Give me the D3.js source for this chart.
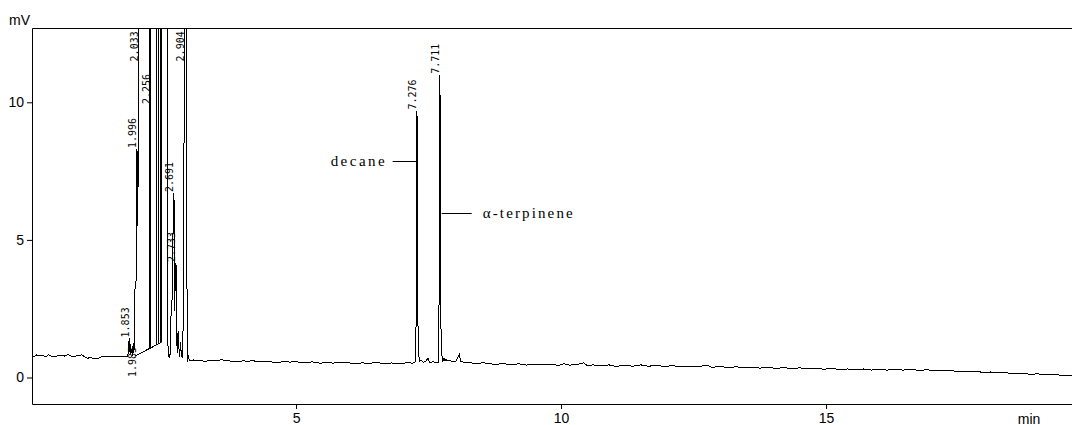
<!DOCTYPE html>
<html>
<head>
<meta charset="utf-8">
<script src="https://cdn.jsdelivr.net/npm/d3@7"></script>
<style>
  html, body { margin: 0; padding: 0; background: #fff; }
  svg { display: block; }
</style>
</head>
<body>
<div id="chart"></div>
<script>
// Detector trace, [time (min), signal (mV)]
var startBaseline = [
    [0.02, 0.80], [0.06, 0.76], [0.10, 0.82], [0.15, 0.78], [0.22, 0.79], [0.28, 0.76],
    [0.33, 0.82], [0.38, 0.78], [0.45, 0.77], [0.55, 0.80], [0.63, 0.78], [0.70, 0.83],
    [0.76, 0.78], [0.80, 0.77], [0.90, 0.79], [0.96, 0.83], [1.00, 0.76], [1.06, 0.70],
    [1.12, 0.72], [1.20, 0.68], [1.28, 0.71], [1.35, 0.76], [1.42, 0.77], [1.50, 0.75],
    [1.58, 0.78], [1.65, 0.76], [1.72, 0.78], [1.78, 0.76]
];
var solventCluster = [
    [1.81, 0.78], [1.825, 0.76], [1.835, 0.95], [1.845, 1.20], [1.853, 1.42], [1.86, 1.10],
    [1.868, 0.95], [1.875, 1.20], [1.885, 0.85], [1.90, 1.05], [1.91, 0.80], [1.922, 1.15],
    [1.932, 0.90], [1.945, 1.30], [1.955, 1.00], [1.962, 3.20], [1.975, 3.30], [1.985, 3.60],
    [1.990, 8.00], [1.996, 8.30], [2.006, 8.10], [2.010, 5.50], [2.018, 6.20], [2.033, 16.0],
    [2.57, 16.0], [2.585, 0.93], [2.60, 0.75], [2.615, 0.72], [2.63, 0.95], [2.645, 2.60],
    [2.66, 2.80], [2.675, 3.10], [2.682, 6.50], [2.691, 6.70], [2.700, 6.40], [2.705, 2.40],
    [2.715, 2.90], [2.725, 4.00], [2.733, 4.16], [2.742, 4.00], [2.748, 1.50], [2.76, 0.90],
    [2.775, 1.70], [2.79, 1.10], [2.805, 0.75], [2.82, 1.30], [2.835, 0.85], [2.855, 0.70],
    [2.87, 1.83], [2.88, 2.00], [2.895, 16.0], [2.935, 16.0], [2.945, 0.70], [2.955, 0.58],
    [2.97, 0.80], [2.985, 0.62]
];
var midBaseline = [
    [3.00, 0.60], [3.06, 0.64], [3.10, 0.61], [3.20, 0.62], [3.28, 0.58], [3.35, 0.62],
    [3.50, 0.60], [3.60, 0.65], [3.66, 0.60], [3.75, 0.60], [3.90, 0.57], [4.00, 0.61],
    [4.10, 0.58], [4.18, 0.62], [4.25, 0.58], [4.40, 0.57], [4.50, 0.59], [4.60, 0.54],
    [4.75, 0.57], [4.90, 0.56], [4.98, 0.60], [5.05, 0.56], [5.20, 0.54], [5.30, 0.57],
    [5.45, 0.52], [5.60, 0.55], [5.70, 0.52], [5.85, 0.56], [6.00, 0.53], [6.10, 0.50],
    [6.25, 0.53], [6.40, 0.51], [6.50, 0.56], [6.60, 0.52], [6.70, 0.49], [6.80, 0.53],
    [6.90, 0.50], [7.00, 0.51], [7.10, 0.54], [7.20, 0.52]
];
var decanePeak = [
    [7.245, 0.56], [7.255, 0.90], [7.262, 1.75], [7.268, 2.00], [7.272, 9.20], [7.276, 9.70],
    [7.290, 9.30], [7.296, 4.50], [7.302, 1.60], [7.31, 0.90], [7.33, 0.60], [7.36, 0.63],
    [7.40, 0.55], [7.45, 0.58], [7.49, 0.72], [7.52, 0.55], [7.58, 0.57], [7.64, 0.55]
];
var terpinenePeak = [
    [7.68, 0.55], [7.695, 0.60], [7.70, 4.10], [7.703, 4.30], [7.706, 10.3], [7.711, 11.0],
    [7.716, 10.3], [7.724, 10.0], [7.728, 6.00], [7.733, 2.00], [7.74, 1.30], [7.755, 0.75],
    [7.77, 0.60], [7.79, 0.70], [7.81, 0.60], [7.83, 0.66], [7.85, 0.60], [7.90, 0.62],
    [7.96, 0.58], [8.02, 0.60], [8.08, 0.85], [8.11, 0.58]
];
var tailBaseline = [
    [8.15, 0.56], [8.30, 0.53], [8.45, 0.50], [8.52, 0.54], [8.60, 0.52], [8.75, 0.47],
    [8.90, 0.51], [9.05, 0.46], [9.20, 0.50], [9.35, 0.45], [9.50, 0.49], [9.65, 0.46],
    [9.80, 0.49], [9.95, 0.44], [10.05, 0.50], [10.15, 0.45], [10.30, 0.47], [10.43, 0.53],
    [10.50, 0.43], [10.60, 0.46], [10.75, 0.42], [10.90, 0.46], [11.05, 0.40], [11.20, 0.45],
    [11.35, 0.41], [11.50, 0.46], [11.65, 0.41], [11.80, 0.44], [11.95, 0.40], [12.10, 0.43],
    [12.25, 0.39], [12.40, 0.41], [12.55, 0.38], [12.75, 0.45], [12.85, 0.37], [13.00, 0.40],
    [13.15, 0.36], [13.30, 0.39], [13.45, 0.35], [13.60, 0.38], [13.75, 0.34], [13.90, 0.37],
    [14.05, 0.33], [14.20, 0.36], [14.35, 0.32], [14.50, 0.35], [14.65, 0.31], [14.80, 0.34],
    [14.95, 0.30], [15.10, 0.33], [15.25, 0.29], [15.40, 0.31], [15.55, 0.28], [15.70, 0.31],
    [15.85, 0.27], [16.00, 0.30], [16.15, 0.27], [16.30, 0.30], [16.45, 0.27], [16.60, 0.29],
    [16.75, 0.26], [16.90, 0.28], [17.05, 0.25], [17.20, 0.27], [17.35, 0.24], [17.50, 0.23],
    [17.65, 0.21], [17.80, 0.23], [17.95, 0.19], [18.10, 0.20], [18.25, 0.17], [18.40, 0.17],
    [18.55, 0.14], [18.70, 0.15], [18.85, 0.12], [19.00, 0.13], [19.15, 0.10], [19.30, 0.11],
    [19.45, 0.08], [19.64, 0.09]
];

// integration baseline under the solvent peak and its drop lines
var intBaseline = [[1.962, 0.78], [2.453, 1.27]];
var dropTimes = [2.226, 2.250, 2.358, 2.396, 2.440, 2.453];

// retention time labels: time, text, level (mV) where the label starts
var peakTimes = [1.853, 1.985, 1.996, 2.033, 2.256, 2.691, 2.733, 2.904, 7.276, 7.711];
var peakLabels = ["1.853", "1.985", "1.996", "2.033", "2.256", "2.691", "2.733", "2.904", "7.276", "7.711"];
var labelLevels = [1.42, -0.02, 8.3, 11.45, 9.9, 6.7, 4.16, 11.45, 9.7, 11.0];

// named compounds
var compoundNames = ["decane", "\u03b1-terpinene"];
var compoundTimes = [7.276, 7.711];
var compoundLevels = [7.86, 5.97];

var xTicks = [5, 10, 15];
var yTicks = [0, 5, 10];

var trace = startBaseline.concat(solventCluster, midBaseline, decanePeak, terpinenePeak, tailBaseline);

var W = 1072, H = 425;
var plot = { left: 32, right: 1072, top: 28, bottom: 404 };

var svg = d3.select("#chart").append("svg")
    .attr("width", W)
    .attr("height", H);

var x = d3.scaleLinear().domain([0, 19.64]).range([31, 1072]);
var y = d3.scaleLinear().domain([-0.963, 12.70]).range([404, 28]);

svg.append("clipPath").attr("id", "plotclip")
    .append("rect")
    .attr("x", plot.left).attr("y", plot.top)
    .attr("width", plot.right - plot.left).attr("height", plot.bottom - plot.top);

var plotArea = svg.append("g").attr("clip-path", "url(#plotclip)");

// integration baseline + drop lines
plotArea.append("line")
    .attr("x1", x(intBaseline[0][0])).attr("y1", y(intBaseline[0][1]))
    .attr("x2", x(intBaseline[1][0])).attr("y2", y(intBaseline[1][1]))
    .attr("stroke", "#000").attr("stroke-width", 1)
    .attr("shape-rendering", "crispEdges");

var baseAt = d3.scaleLinear()
    .domain([intBaseline[0][0], intBaseline[1][0]])
    .range([intBaseline[0][1], intBaseline[1][1]]);

plotArea.selectAll(".drop")
    .data(dropTimes)
    .enter().append("line")
    .attr("class", "drop")
    .attr("x1", function (d) { return Math.round(x(d)) + 0.5; })
    .attr("x2", function (d) { return Math.round(x(d)) + 0.5; })
    .attr("y1", function (d) { return y(baseAt(d)); })
    .attr("y2", y(16))
    .attr("stroke", "#000").attr("stroke-width", 1);

// the trace itself
plotArea.append("path")
    .datum(trace)
    .attr("d", d3.line().x(function (d) { return x(d[0]); }).y(function (d) { return y(d[1]); }))
    .attr("fill", "none")
    .attr("stroke", "#000")
    .attr("stroke-width", 1)
    .attr("shape-rendering", "crispEdges");

// frame (top, left, bottom)
svg.append("path")
    .attr("d", "M" + plot.right + "," + (plot.top + 0.5) + "H" + (plot.left + 0.5) +
        "V" + (plot.bottom + 0.5) + "H" + plot.right)
    .attr("fill", "none").attr("stroke", "#000").attr("stroke-width", 1);

// axes
var gy = svg.append("g")
    .attr("transform", "translate(" + plot.left + ",0)")
    .call(d3.axisLeft(y).tickValues(yTicks).tickSize(5).tickPadding(3).tickFormat(d3.format("d")));
gy.select(".domain").remove();

var gx = svg.append("g")
    .attr("transform", "translate(0," + plot.bottom + ")")
    .call(d3.axisBottom(x).tickValues(xTicks).tickSize(5).tickPadding(4).tickFormat(d3.format("d")));
gx.select(".domain").remove();

svg.selectAll(".tick text")
    .attr("font-family", "'Liberation Sans', Arial, sans-serif")
    .attr("font-size", 14)
    .attr("fill", "#000");
svg.selectAll(".tick line").attr("stroke", "#000");

svg.append("text")
    .attr("x", 9).attr("y", 25)
    .attr("font-family", "'Liberation Sans', Arial, sans-serif")
    .attr("font-size", 14)
    .text("mV");

svg.append("text")
    .attr("x", 1029).attr("y", 423.5)
    .attr("text-anchor", "middle")
    .attr("font-family", "'Liberation Sans', Arial, sans-serif")
    .attr("font-size", 14)
    .text("min");

// retention time labels, rotated, sitting on the peak apex
svg.selectAll(".rt")
    .data(peakTimes)
    .enter().append("text")
    .attr("class", "rt")
    .attr("transform", function (d, i) {
        return "translate(" + (x(d) - 0.5) + "," + (y(labelLevels[i]) - 1) + ") rotate(-90)";
    })
    .attr("font-family", "'DejaVu Sans Mono', monospace")
    .attr("font-size", 10)
    .attr("fill", "#000")
    .text(function (d, i) { return peakLabels[i]; });

// compound annotations
var annLine = [24, 30];     // leader line length
var annGap = [8, 11];       // gap between leader and text
var annWidth = [54, 90];    // printed text width
compoundNames.forEach(function (name, i) {
    var px = x(compoundTimes[i]);
    var py = Math.round(y(compoundLevels[i])) + 0.5;
    var left = i === 0;
    var x1 = left ? px - annLine[i] : px + 2;
    var x2 = left ? px : px + 2 + annLine[i];
    svg.append("line")
        .attr("x1", x1).attr("x2", x2)
        .attr("y1", py).attr("y2", py)
        .attr("stroke", "#000").attr("stroke-width", 1);
    svg.append("text")
        .attr("x", left ? x1 - annGap[i] - annWidth[i] : x2 + annGap[i])
        .attr("y", py + 4.5)
        .attr("font-family", "'Liberation Serif', 'Times New Roman', serif")
        .attr("font-size", 15)
        .attr("textLength", annWidth[i])
        .attr("lengthAdjust", "spacing")
        .text(name);
});
</script>
</body>
</html>
